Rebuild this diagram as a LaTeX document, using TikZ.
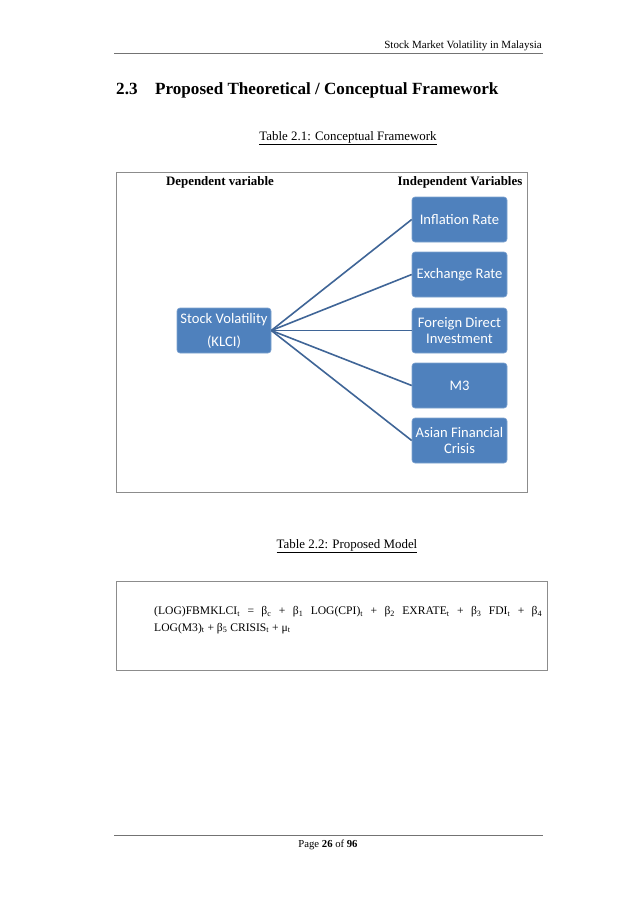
\documentclass[tikz,border=0pt]{standalone}
\usepackage{fontspec}
\setmainfont{Liberation Serif}
\newfontfamily\boxfont{Carlito}
\begin{document}
\begin{tikzpicture}[x=1pt,y=-1pt,
  rulegray/.style={draw=black!55, line width=0.8pt},
  framegray/.style={draw=black!45, line width=0.9pt},
  varbox/.style={draw=boxedge, fill=boxblue, rounded corners=3pt,
     minimum width=95pt, minimum height=45pt, inner sep=1pt, align=center,
     text=white, font=\boxfont\fontsize{14.6}{16.5}\selectfont, line width=0.6pt},
  link/.style={draw=lineblue, line width=1.6pt},
  bodytext/.style={font=\fontsize{12.9}{15}\selectfont, inner sep=0pt},
]
\definecolor{boxblue}{HTML}{4F81BD}
\definecolor{boxedge}{HTML}{7FA3D0}
\definecolor{lineblue}{HTML}{3F6597}
\useasboundingbox[fill=white] (0,0) rectangle (638,903);

% header
\node[anchor=base east, inner sep=0pt, font=\fontsize{11}{12}\selectfont] (hdr) at (542,48) {Stock Market Volatility in Malaysia};
\coordinate (hl) at (114,53);
\coordinate (hr) at (543,53);
\draw[rulegray] (hl) -- (hr);

% title
\node[anchor=base west, inner sep=0pt, font=\bfseries\fontsize{17.1}{20}\selectfont] (secnum) at (116,94) {2.3};
\node[anchor=base west, inner sep=0pt, font=\bfseries\fontsize{17.1}{20}\selectfont] (title) at (155,94) {Proposed Theoretical / Conceptual Framework};

% table 2.1 caption
\node[bodytext, anchor=base] (cap1) at (348,140) {\underline{Table 2.1: Conceptual Framework}};

% framework frame
\node[framegray, minimum width=411pt, minimum height=320pt, inner sep=0pt, anchor=north west] (frame) at (116,172) {};

\node[bodytext, anchor=base, font=\bfseries\fontsize{12.9}{15}\selectfont] (dep) at (220,185) {Dependent variable};
\node[bodytext, anchor=base, font=\bfseries\fontsize{12.9}{15}\selectfont] (indep) at (460,185) {Independent Variables};

% boxes
\node[varbox, minimum width=94pt, font=\boxfont\fontsize{14.6}{23}\selectfont] (sv) at (224,330.5) {Stock Volatility\\(KLCI)};
\node[varbox] (v1) at (459.5,219.5) {Inflation Rate};
\node[varbox] (v2) at (459.5,274.5) {Exchange Rate};
\node[varbox] (v3) at (459.5,330.5) {Foreign Direct\\Investment};
\node[varbox] (v4) at (459.5,385.5) {M3};
\node[varbox] (v5) at (459.5,440.5) {Asian Financial\\Crisis};

\foreach \v in {v1,v2,v3,v4,v5} \draw[link] (sv.east) -- (\v.west);

% table 2.2 caption
\node[bodytext, anchor=base] (cap2) at (347,548) {\underline{Table 2.2: Proposed Model}};

% model frame
\node[framegray, minimum width=431pt, minimum height=89pt, inner sep=0pt, anchor=north west] (mframe) at (116,581) {};

\node[anchor=base west, inner sep=0pt, font=\fontsize{11.6}{14}\selectfont] (eq1) at (154,614.5)
  {\makebox[388pt][s]{(LOG)FBMKLCI\textsubscript{t} = β\textsubscript{c} + β\textsubscript{1} LOG(CPI)\textsubscript{t} + β\textsubscript{2} EXRATE\textsubscript{t} + β\textsubscript{3} FDI\textsubscript{t} + β\textsubscript{4}}};
\node[anchor=base west, inner sep=0pt, font=\fontsize{11.6}{14}\selectfont] (eq2) at (154,631)
  {LOG(M3)\textsubscript{t} + β\textsubscript{5} CRISIS\textsubscript{t} + μ\textsubscript{t}};

% footer
\coordinate (fl) at (114,835);
\coordinate (fr) at (543,835);
\draw[rulegray] (fl) -- (fr);
\node[anchor=base, inner sep=0pt, font=\fontsize{10.7}{12}\selectfont] (pg) at (328,847) {Page \textbf{26} of \textbf{96}};
\end{tikzpicture}
\end{document}
